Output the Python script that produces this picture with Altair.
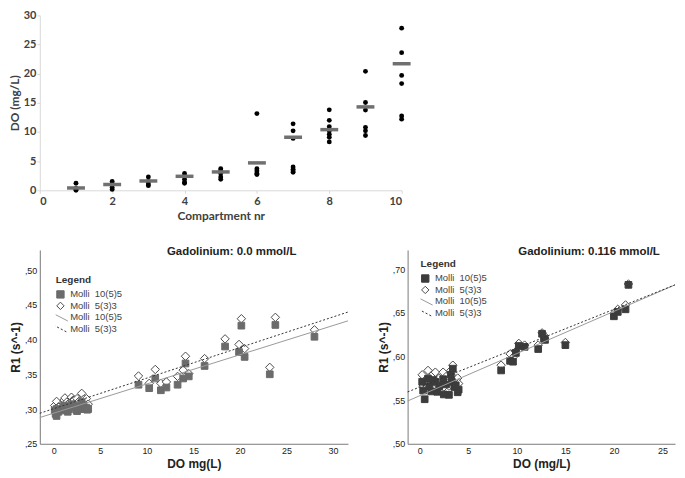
import altair as alt
import pandas as pd

# ---------------- top chart data ----------------
compartments = [1, 2, 3, 4, 5, 6, 7, 8, 9, 10]
do_per_compartment = [
    [1.2, 0.3, 0.2, 0.0],
    [1.5, 1.1, 0.5, 0.15],
    [2.3, 1.5, 1.1, 0.8],
    [2.9, 2.4, 1.9, 1.4, 1.2],
    [3.7, 3.4, 2.9, 2.3, 1.9],
    [13.15, 3.7, 3.3, 2.9, 2.7],
    [11.4, 10.2, 8.9, 4.0, 3.6, 3.3, 3.1],
    [13.8, 12.0, 10.9, 10.2, 9.6, 9.1, 8.3],
    [20.4, 15.05, 13.75, 10.8, 10.2, 9.4],
    [27.8, 23.6, 19.7, 18.3, 12.75, 12.2],
]
do_mean = [0.4, 1.0, 1.6, 2.4, 3.15, 4.7, 9.1, 10.4, 14.3, 21.7]
top_x_ticks = [0, 2, 4, 6, 8, 10]
top_y_ticks = [0, 5, 10, 15, 20, 25, 30]

# ---------------- bottom-left (Gd 0.0 mmol/L) ----------------
left_do = [0.1, 0.2, 0.3, 0.3, 0.5, 0.8, 1.0, 1.1, 1.2, 1.4, 1.5, 1.6, 1.9,
           2.0, 2.2, 2.4, 2.5, 2.7, 2.8, 3.0, 3.1, 3.2, 3.3, 3.5, 3.6, 3.7,
           9.1, 10.25, 10.9, 11.5, 12.1, 13.3, 13.9, 14.15, 14.5, 16.2,
           18.4, 19.9, 20.15, 20.5, 23.2, 23.8, 28.0]
left_r1_10_5_5 = [0.298, 0.293, 0.290, 0.300, 0.296, 0.298, 0.302, 0.305, 0.300,
                  0.303, 0.296, 0.300, 0.307, 0.303, 0.305, 0.299, 0.297, 0.303,
                  0.300, 0.310, 0.301, 0.305, 0.300, 0.302, 0.299, 0.300,
                  0.335, 0.330, 0.344, 0.327, 0.331, 0.335, 0.344, 0.3656, 0.347,
                  0.362, 0.390, 0.382, 0.420, 0.375, 0.350, 0.421, 0.404]
left_r1_5_3_3 = [0.305, 0.300, 0.298, 0.311, 0.303, 0.306, 0.309, 0.313, 0.316,
                 0.310, 0.306, 0.308, 0.317, 0.312, 0.313, 0.309, 0.315, 0.311,
                 0.309, 0.3226, 0.312, 0.314, 0.309, 0.315, 0.306, 0.307,
                 0.3476, 0.337, 0.357, 0.337, 0.339, 0.347, 0.356, 0.376, 0.351,
                 0.3726, 0.401, 0.393, 0.430, 0.387, 0.360, 0.432, 0.414]
left_fit_x = [-1.5, 31.6]
left_fit_10_5_5 = [0.2878, 0.4269]
left_fit_5_3_3 = [0.2939, 0.4396]

# ---------------- bottom-right (Gd 0.116 mmol/L) ----------------
right_do = [0.24, 0.34, 0.5, 0.84, 1.0, 1.18, 1.4, 1.6, 1.8, 2.0, 2.4, 2.47,
            2.7, 3.0, 3.2, 3.3, 3.4, 3.55, 3.7, 3.9, 4.0,
            8.38, 9.3, 9.6, 9.9, 10.2, 10.8, 12.2, 12.6, 12.8, 12.9, 15.0,
            20.0, 20.4, 21.2, 21.5]
right_r1_10_5_5 = [0.571, 0.561, 0.551, 0.5746, 0.566, 0.560, 0.573, 0.571, 0.5595,
                   0.566, 0.574, 0.5565, 0.568, 0.556, 0.579, 0.571, 0.586, 0.565,
                   0.567, 0.559, 0.562,
                   0.584, 0.595, 0.594, 0.604, 0.612, 0.611, 0.6085, 0.626, 0.6205,
                   0.619, 0.613, 0.646, 0.651, 0.654, 0.682]
right_r1_5_3_3 = [0.579, 0.566, 0.562, 0.584, 0.576, 0.571, 0.580, 0.582, 0.568,
                  0.575, 0.582, 0.565, 0.577, 0.566, 0.584, 0.578, 0.590, 0.572,
                  0.5727, 0.5753, 0.569,
                  0.590, 0.603, 0.599, 0.606, 0.615, 0.613, 0.613, 0.627, 0.624,
                  0.620, 0.616, 0.649, 0.654, 0.659, 0.683]
right_fit_x = [-1.26, 26.3]
right_fit_10_5_5 = [0.549, 0.682]
right_fit_5_3_3 = [0.5594, 0.682]

legend_keys = ["sq", "di", "ln", "dl"]
legend_labels = ["Molli\u00a0\u00a010(5)5", "Molli\u00a0\u00a05(3)3",
                 "Molli\u00a0\u00a010(5)5", "Molli\u00a0\u00a05(3)3"]

# ---------------- top chart ----------------
TOP_FONT = "Lato"
top_axis = dict(grid=False, domainColor="#d9d9d9", tickColor="#d9d9d9", tickSize=3,
                labelOverlap=False, labelFont=TOP_FONT, labelFontSize=11,
                labelFontWeight="bold", labelColor="#404040", titleFont=TOP_FONT,
                titleFontSize=12, titleFontWeight="bold", titleColor="#404040")

top_df = pd.DataFrame(
    [(c, v) for c, vals in zip(compartments, do_per_compartment) for v in vals],
    columns=["compartment", "do"])
mean_df = pd.DataFrame({"compartment": compartments, "do": do_mean})

tx = alt.X("compartment:Q", scale=alt.Scale(domain=[0, 10], nice=False),
           axis=alt.Axis(values=top_x_ticks, title="Compartment nr", labelPadding=2,
                         titlePadding=4, **top_axis))
ty = alt.Y("do:Q", scale=alt.Scale(domain=[0, 30], nice=False),
           axis=alt.Axis(values=top_y_ticks, title="DO (mg/L)", labelPadding=1,
                         titlePadding=2, **top_axis))

top_pts = alt.Chart(top_df).mark_circle(size=24, color="black", opacity=1).encode(x=tx, y=ty)
top_bar = alt.Chart(mean_df).mark_tick(orient="horizontal", size=18, thickness=3.5,
                                       color="#707070", opacity=1).encode(x=tx, y=ty)
top = alt.layer(top_pts, top_bar).properties(width=364, height=176)

# ---------------- bottom charts ----------------
BF = "Liberation Sans"
label_expr = ("datum.label == 'sq' || datum.label == 'ln' ? '%s' : '%s'"
              % (legend_labels[0], legend_labels[1]))
line_shape = "M-1.9,-1L2,1"
dash_shape = ("M-1.9,-1L-1.4,-0.74M-0.9,-0.47L-0.4,-0.21M0.1,0.05L0.6,0.31"
              "M1.1,0.58L1.6,0.84")


def panel(do, r_a, r_b, fit_x, fit_a, fit_b, x_dom, y_dom, x_ticks, y_ticks,
          x_title, title, title_dx, sq_color, leg_x, leg_y, width, height):
    dia_df = pd.DataFrame({"do": do, "r1": r_b, "key": ["di"] * len(do)})
    sq_df = pd.DataFrame({"do": do, "r1": r_a, "key": ["sq"] * len(do)})
    axis_common = dict(grid=False, ticks=False, domainColor="#7a7a7a",
                       labelOverlap=False, labelFont=BF, labelFontSize=9,
                       labelColor="#222222", titleFont=BF, titleFontSize=12,
                       titleFontWeight="bold", titleColor="#222222")
    x = alt.X("do:Q", scale=alt.Scale(domain=x_dom, nice=False, zero=False),
              axis=alt.Axis(values=x_ticks, title=x_title, labelPadding=3,
                            titlePadding=3, **axis_common))
    y = alt.Y("r1:Q", scale=alt.Scale(domain=y_dom, nice=False, zero=False),
              axis=alt.Axis(values=y_ticks, title="R1 (s^-1)", labelPadding=3,
                            titlePadding=2,
                            labelExpr="replace(format(datum.value, '.2f'), '0.', ',')",
                            **axis_common))
    leg = alt.Legend(title="\u00a0\u00a0\u00a0\u00a0\u00a0Legend", orient="none",
                     legendX=leg_x, legendY=leg_y, labelExpr=label_expr,
                     titleFont=BF, titleFontSize=10, titleFontWeight="bold",
                     titleColor="#333333", titlePadding=5, labelFont=BF,
                     labelFontSize=9.5, labelColor="#444444", labelOffset=5,
                     rowPadding=0.5, symbolSize=55, clipHeight=9.5,
                     symbolStrokeWidth=1)
    enc = dict(
        x=x, y=y,
        shape=alt.Shape("key:N", scale=alt.Scale(
            domain=legend_keys, range=["square", "diamond", line_shape, dash_shape]),
            legend=leg),
        fill=alt.Fill("key:N", scale=alt.Scale(
            domain=legend_keys, range=[sq_color, "white", "transparent", "transparent"]),
            legend=leg),
        stroke=alt.Stroke("key:N", scale=alt.Scale(
            domain=legend_keys, range=[sq_color, "#4a4a4a", "#999999", "#333333"]),
            legend=leg),
    )
    dia = alt.Chart(dia_df).mark_point(opacity=1, strokeWidth=1, size=72).encode(**enc)
    sq = alt.Chart(sq_df).mark_point(opacity=1, strokeWidth=1, size=45).encode(**enc)
    la = alt.Chart(pd.DataFrame({"do": fit_x, "r1": fit_a})).mark_line(
        color="#999999", strokeWidth=1).encode(x=x, y=y)
    lb = alt.Chart(pd.DataFrame({"do": fit_x, "r1": fit_b})).mark_line(
        color="#333333", strokeWidth=1, strokeDash=[2, 2]).encode(x=x, y=y)
    return alt.layer(dia, sq, la, lb).properties(
        width=width, height=height,
        title=alt.TitleParams(text=title, font=BF, fontSize=11.5, fontWeight="bold",
                              color="#222222", anchor="middle", dx=title_dx, offset=-8))


left = panel(left_do, left_r1_10_5_5, left_r1_5_3_3, left_fit_x, left_fit_10_5_5,
             left_fit_5_3_3, [-1.5, 31.6], [0.25, 0.529], [0, 5, 10, 15, 20, 25, 30],
             [0.25, 0.30, 0.35, 0.40, 0.45, 0.50], "DO mg(L)",
             "Gadolinium: 0.0 mmol/L", 38, "#6b6b6b", 16, 25, 310, 195)
right = panel(right_do, right_r1_10_5_5, right_r1_5_3_3, right_fit_x, right_fit_10_5_5,
              right_fit_5_3_3, [-1.26, 26.3], [0.50, 0.722], [0, 5, 10, 15, 20, 25],
              [0.50, 0.55, 0.60, 0.65, 0.70], "DO (mg/L)",
              "Gadolinium: 0.116 mmol/L", 48, "#3c3c3c", 13, 9, 269, 195)

bottom = alt.hconcat(left, right, spacing=27).resolve_scale(
    x="independent", y="independent", shape="independent", fill="independent",
    stroke="independent").resolve_legend(
    shape="independent", fill="independent", stroke="independent")

chart = alt.vconcat(top, bottom, spacing=25).properties(padding=0).configure_view(
    stroke=None).configure_axis(labelOverlap=False)

chart.save("out.html", embed_options={"renderer": "svg", "actions": False})
